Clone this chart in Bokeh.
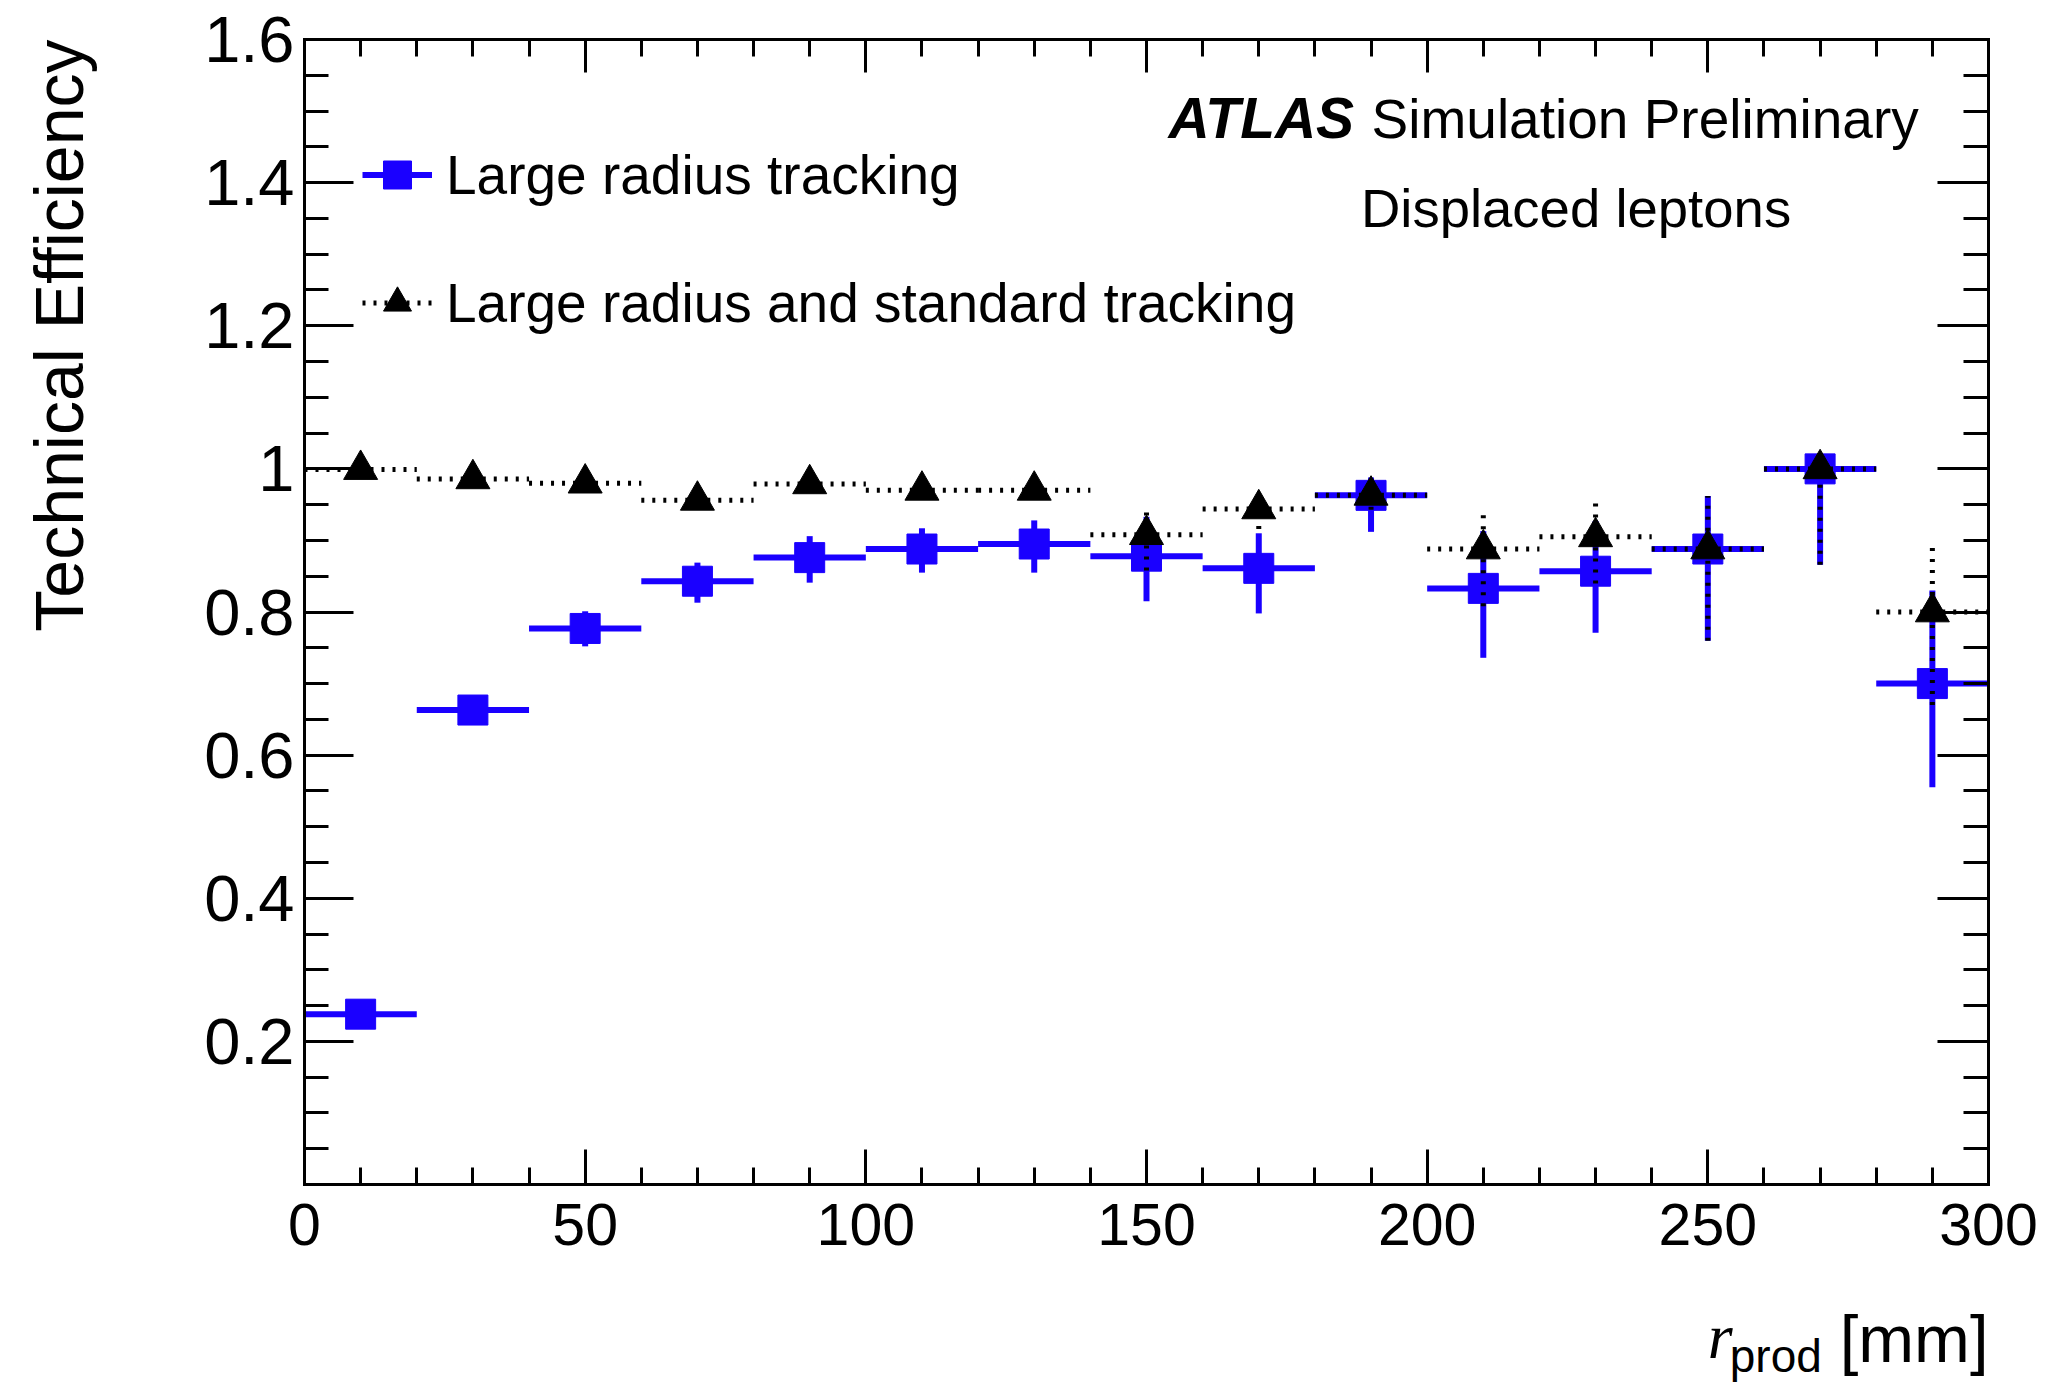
from bokeh.plotting import figure
from bokeh.models import (ColumnDataSource, FixedTicker, LinearAxis, Label, Legend,
                          LegendItem, Range1d, CustomJSTickFormatter)
from bokeh.embed import file_html
from bokeh.resources import INLINE
import math

# ---------------- data ----------------
bin_centers = [10, 30, 50, 70, 90, 110, 130, 150, 170, 190, 210, 230, 250, 270, 290]
bin_low     = [0, 20, 40, 60, 80, 100, 120, 140, 160, 180, 200, 220, 240, 260, 280]
bin_high    = [20, 40, 60, 80, 100, 120, 140, 160, 180, 200, 220, 240, 260, 280, 300]

lrt_eff    = [0.238, 0.663, 0.777, 0.843, 0.876, 0.888, 0.895, 0.878, 0.861, 0.963, 0.833, 0.857, 0.888, 1.000, 0.700]
lrt_err_lo = [0.004, 0.013, 0.025, 0.030, 0.035, 0.033, 0.040, 0.063, 0.063, 0.051, 0.097, 0.086, 0.128, 0.134, 0.145]
lrt_err_hi = [0.004, 0.013, 0.024, 0.026, 0.030, 0.029, 0.033, 0.055, 0.049, 0.025, 0.080, 0.070, 0.074, 0.000, 0.130]

all_eff    = [0.999, 0.986, 0.980, 0.956, 0.979, 0.970, 0.970, 0.908, 0.944, 0.963, 0.888, 0.905, 0.888, 1.000, 0.800]
all_err_lo = [0.003, 0.005, 0.006, 0.008, 0.008, 0.010, 0.012, 0.050, 0.028, 0.020, 0.080, 0.065, 0.128, 0.134, 0.130]
all_err_hi = [0.001, 0.004, 0.005, 0.007, 0.006, 0.008, 0.009, 0.038, 0.021, 0.012, 0.053, 0.051, 0.074, 0.000, 0.100]

x_major_ticks = [0, 50, 100, 150, 200, 250, 300]
x_tick_labels = ["0", "50", "100", "150", "200", "250", "300"]
x_minor_ticks = [10, 20, 30, 40, 60, 70, 80, 90, 110, 120, 130, 140, 160, 170, 180, 190,
                 210, 220, 230, 240, 260, 270, 280, 290]
y_major_ticks = [0.2, 0.4, 0.6, 0.8, 1.0, 1.2, 1.4, 1.6]
y_tick_labels = ["0.2", "0.4", "0.6", "0.8", "1", "1.2", "1.4", "1.6"]
y_minor_ticks = [0.05, 0.1, 0.15, 0.25, 0.3, 0.35, 0.45, 0.5, 0.55, 0.65, 0.7, 0.75,
                 0.85, 0.9, 0.95, 1.05, 1.1, 1.15, 1.25, 1.3, 1.35, 1.45, 1.5, 1.55]

X_MIN, X_MAX = 0, 300
Y_MIN, Y_MAX = 0.0, 1.6

label_lrt = "Large radius tracking"
label_all = "Large radius and standard tracking"

# ---------------- layout (pixels) ----------------
W, H = 2045, 1386
BOX_L, BOX_R, BOX_T, BOX_B = 304, 1988, 39, 1184   # where the ROOT-style frame is drawn
ppx = (BOX_R - BOX_L) / (X_MAX - X_MIN)
ppy = (BOX_B - BOX_T) / (Y_MAX - Y_MIN)
x_range = Range1d(X_MIN - BOX_L / ppx, X_MAX + (W - BOX_R) / ppx)
y_range = Range1d(Y_MIN - (H - BOX_B) / ppy, Y_MAX + BOX_T / ppy)

BLUE = "#1a00ff"
FONT = "Liberation Sans"

src_lrt = ColumnDataSource(dict(
    x=bin_centers, lo=bin_low, hi=bin_high, eff=lrt_eff,
    ylo=[e - d for e, d in zip(lrt_eff, lrt_err_lo)],
    yhi=[e + u for e, u in zip(lrt_eff, lrt_err_hi)]))
src_all = ColumnDataSource(dict(
    x=bin_centers, lo=bin_low, hi=bin_high, eff=all_eff,
    ylo=[e - d for e, d in zip(all_eff, all_err_lo)],
    yhi=[e + u for e, u in zip(all_eff, all_err_hi)]))

p = figure(width=W, height=H, x_range=x_range, y_range=y_range,
           output_backend="svg", toolbar_location=None, min_border=0)
p.grid.visible = False
p.background_fill_color = "white"
p.border_fill_color = "white"
p.outline_line_color = None


def style_axis(ax, major_in, minor_in, size="60px"):
    ax.axis_line_width = 3
    ax.axis_line_color = "black"
    ax.axis_line_cap = "square"
    ax.major_tick_in = major_in
    ax.major_tick_out = 0
    ax.minor_tick_in = minor_in
    ax.minor_tick_out = 0
    ax.major_tick_line_width = 3
    ax.minor_tick_line_width = 3
    ax.major_tick_line_color = "black"
    ax.minor_tick_line_color = "black"
    ax.major_label_text_font = FONT
    ax.major_label_text_font_size = size
    ax.major_label_text_color = "black"


xt = FixedTicker(ticks=x_major_ticks, minor_ticks=x_minor_ticks)
yt = FixedTicker(ticks=y_major_ticks, minor_ticks=y_minor_ticks)

xa = p.xaxis[0]
xa.ticker = xt
style_axis(xa, 35, 17, "59px")
xa.major_label_overrides = dict(zip(x_major_ticks, x_tick_labels))
xa.major_label_standoff = 19
xa.fixed_location = Y_MIN
xa.bounds = (X_MIN, X_MAX)

ya = p.yaxis[0]
ya.ticker = yt
style_axis(ya, 49, 24, "65px")
ya.major_label_overrides = dict(zip(y_major_ticks, y_tick_labels))
ya.major_label_standoff = 10
ya.fixed_location = X_MIN
ya.bounds = (Y_MIN, Y_MAX)

blank = CustomJSTickFormatter(code="return ''")
top = LinearAxis(ticker=xt, formatter=blank)
style_axis(top, 33, 17, "1px")
top.fixed_location = Y_MAX
top.bounds = (X_MIN, X_MAX)
p.add_layout(top, "above")
right = LinearAxis(ticker=yt, formatter=blank)
style_axis(right, 51, 25, "1px")
right.fixed_location = X_MAX
right.bounds = (Y_MIN, Y_MAX)
p.add_layout(right, "right")

# ---------------- data marks ----------------
b_h = p.segment(x0="lo", y0="eff", x1="hi", y1="eff", source=src_lrt,
                line_color=BLUE, line_width=6)
p.segment(x0="x", y0="ylo", x1="x", y1="yhi", source=src_lrt,
          line_color=BLUE, line_width=6)
b_m = p.scatter(x="x", y="eff", source=src_lrt, marker="square", size=30,
                fill_color=BLUE, line_color=BLUE, line_width=1)

k_h = p.segment(x0="lo", y0="eff", x1="hi", y1="eff", source=src_all,
                line_color="black", line_width=5, line_dash="3 8")
p.segment(x0="x", y0="ylo", x1="x", y1="yhi", source=src_all,
          line_color="black", line_width=5, line_dash="3 8")
k_m = p.scatter(x="x", y="eff", source=src_all, marker="triangle", size=34,
                fill_color="black", line_color="black", line_width=1)

legend = Legend(items=[LegendItem(label=label_lrt, renderers=[b_h, b_m]),
                       LegendItem(label=label_all, renderers=[k_h, k_m])],
                location=(362, H - 340), orientation="vertical")
legend.glyph_width = 70
legend.glyph_height = 75
legend.label_height = 75
legend.spacing = 53
legend.padding = 0
legend.margin = 0
legend.label_standoff = 14
legend.border_line_color = None
legend.background_fill_alpha = 0
legend.label_text_font = FONT
legend.label_text_font_size = "55px"
legend.label_text_color = "black"
p.add_layout(legend, "center")

# ---------------- texts ----------------
p.add_layout(Label(x=153.9, y=1.490, text="ATLAS", text_font=FONT, text_font_size="57px",
                   text_font_style="bold italic", text_color="black",
                   text_baseline="middle", text_align="left"))
p.add_layout(Label(x=190.1, y=1.489, text="Simulation Preliminary", text_font=FONT,
                   text_font_size="55px", text_color="black",
                   text_baseline="middle", text_align="left"))
p.add_layout(Label(x=188.2, y=1.364, text="Displaced leptons", text_font=FONT,
                   text_font_size="54.5px", text_color="black",
                   text_baseline="middle", text_align="left"))

# y-axis title (ROOT style: aligned at the top end of the axis)
p.add_layout(Label(x=-43.8, y=Y_MAX, text="Technical Efficiency", text_font=FONT,
                   text_font_size="68px", text_color="black", angle=math.pi / 2,
                   text_baseline="middle", text_align="right"))

# x-axis title: r_prod [mm]
p.add_layout(Label(x=250.0, y=-0.212, text="r", text_font="Liberation Serif",
                   text_font_size="64px", text_font_style="italic", text_color="black",
                   text_baseline="middle", text_align="left"))
p.add_layout(Label(x=253.9, y=-0.240, text="prod", text_font=FONT,
                   text_font_size="46px", text_color="black",
                   text_baseline="middle", text_align="left"))
p.add_layout(Label(x=X_MAX, y=-0.215, text="[mm]", text_font=FONT,
                   text_font_size="67px", text_color="black",
                   text_baseline="middle", text_align="right"))

open("out.html", "w").write(file_html(p, INLINE))
